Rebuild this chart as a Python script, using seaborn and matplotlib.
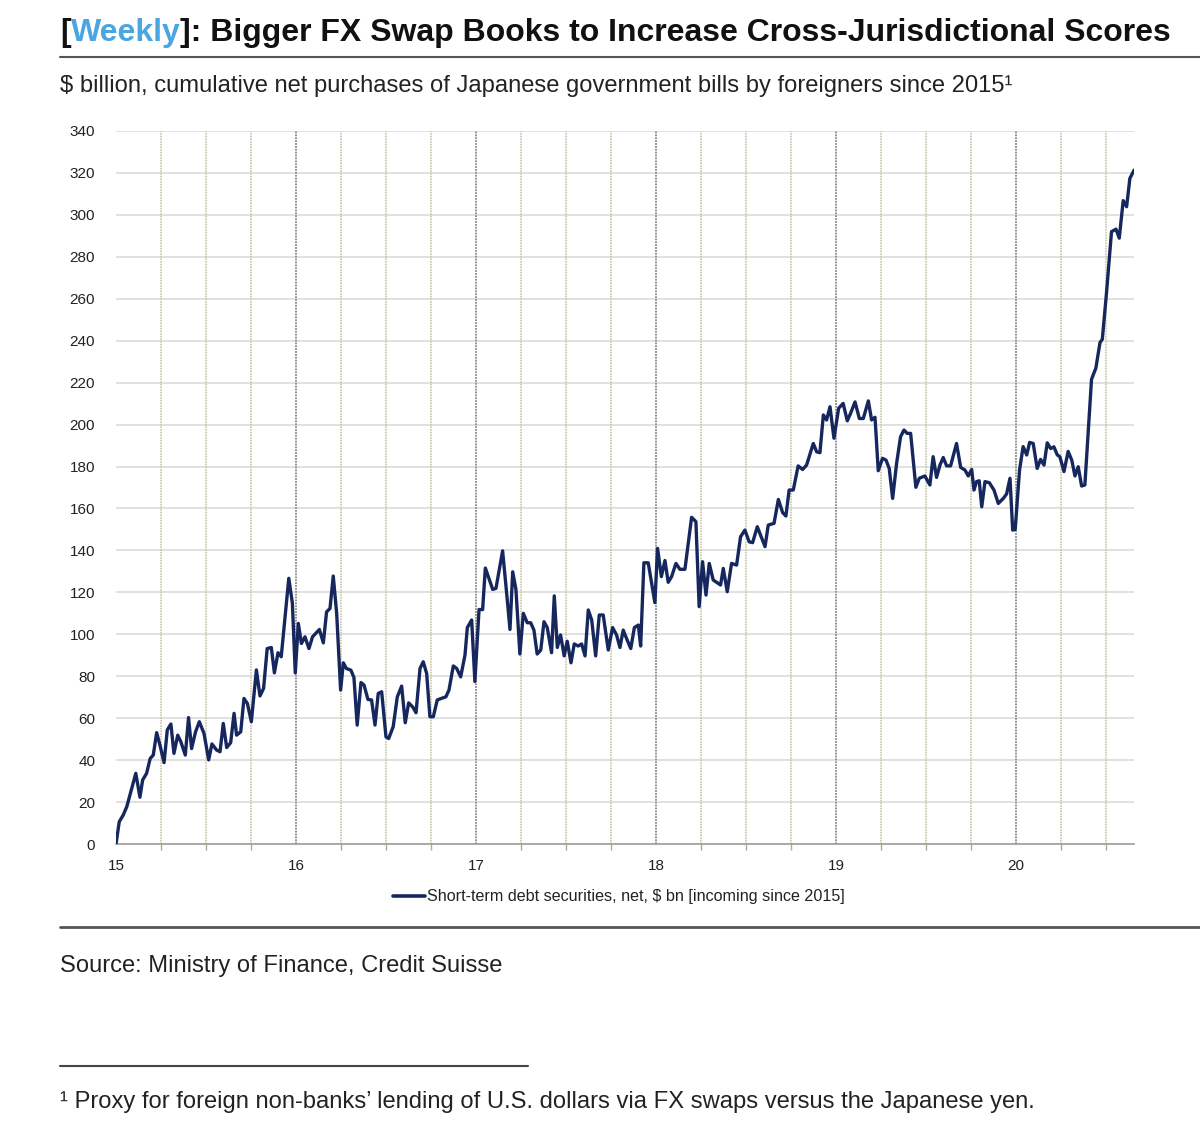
import numpy as np
import pandas as pd
import matplotlib
matplotlib.use('Agg')
import matplotlib.pyplot as plt
from matplotlib.lines import Line2D
from matplotlib.ticker import MultipleLocator, FixedLocator
import seaborn as sns

# weekly cumulative net purchases, $ bn (x = year, 15 = 2015)
d15 = [15.000, 15.018, 15.040, 15.060, 15.080, 15.110, 15.133, 15.148, 15.170, 15.190,
       15.207, 15.226, 15.244, 15.267, 15.285, 15.305, 15.322, 15.343, 15.360, 15.385,
       15.403, 15.420, 15.442, 15.463, 15.489, 15.515, 15.533, 15.559, 15.578, 15.596,
       15.615, 15.637, 15.656, 15.670, 15.693, 15.711, 15.730, 15.752, 15.780, 15.800,
       15.820, 15.840, 15.863, 15.880, 15.900, 15.918, 15.960, 15.980, 15.996]
v15 = [0, 10.6, 13.8, 17.8, 24.2, 33.7, 22.3, 30.5, 33.7, 40.8,
       42.4, 53.1, 47.2, 38.8, 54.4, 57.2, 43.2, 51.9, 48.8, 42.4,
       60.3, 45.5, 53.5, 58.3, 52.7, 40.1, 47.7, 44.8, 44.0, 57.5,
       46.0, 48.3, 62.3, 51.9, 53.5, 69.4, 67.0, 58.3, 83.0, 70.6,
       74.2, 93.2, 93.7, 81.6, 91.2, 89.3, 126.7, 114.8, 81.6]

d16 = [16.013, 16.030, 16.050, 16.072, 16.092, 16.130, 16.152, 16.170, 16.189, 16.207,
       16.226, 16.248, 16.263, 16.280, 16.305, 16.322, 16.340, 16.361, 16.378, 16.400,
       16.420, 16.439, 16.457, 16.476, 16.500, 16.515, 16.540, 16.563, 16.587, 16.607,
       16.626, 16.648, 16.667, 16.689, 16.707, 16.726, 16.744, 16.763, 16.785, 16.833,
       16.850, 16.874, 16.893, 16.915, 16.939, 16.952, 16.976, 16.994]
v16 = [105.2, 95.6, 98.8, 93.2, 98.8, 102.3, 95.9, 110.7, 112.3, 127.8,
       110.0, 73.4, 86.4, 83.7, 82.9, 79.4, 56.7, 77.0, 75.8, 68.9,
       68.7, 56.7, 71.8, 72.6, 51.1, 50.3, 55.9, 70.2, 75.3, 57.8,
       67.3, 65.4, 62.6, 83.7, 86.9, 81.3, 60.7, 60.7, 68.7, 70.2,
       73.4, 84.9, 83.7, 79.7, 90.1, 103.2, 106.8, 77.5]

d17 = [17.017, 17.037, 17.052, 17.074, 17.093, 17.111, 17.148, 17.167, 17.189, 17.204,
       17.222, 17.244, 17.263, 17.285, 17.304, 17.322, 17.340, 17.360, 17.378, 17.396,
       17.420, 17.435, 17.452, 17.470, 17.490, 17.507, 17.528, 17.546, 17.568, 17.587,
       17.606, 17.624, 17.643, 17.665, 17.685, 17.707, 17.735, 17.759, 17.781, 17.800,
       17.818, 17.840, 17.860, 17.880, 17.902, 17.915, 17.933, 17.957, 17.994]
v17 = [111.8, 111.8, 131.6, 126.2, 121.4, 121.9, 139.8, 122.7, 102.3, 129.8,
       121.4, 90.6, 110.0, 105.5, 105.5, 102.0, 90.6, 92.5, 106.0, 103.2,
       91.2, 118.3, 93.7, 99.7, 89.7, 96.7, 86.4, 95.4, 94.4, 95.4,
       89.7, 111.6, 106.8, 89.7, 109.2, 109.2, 92.5, 103.2, 99.7, 93.7,
       102.0, 97.3, 93.2, 103.2, 104.4, 94.4, 134.1, 134.1, 115.1]

d18 = [18.009, 18.030, 18.050, 18.068, 18.087, 18.111, 18.133, 18.161, 18.198, 18.222,
       18.240, 18.259, 18.278, 18.296, 18.318, 18.359, 18.374, 18.396, 18.420, 18.448,
       18.470, 18.494, 18.518, 18.537, 18.563, 18.606, 18.624, 18.656, 18.680, 18.704,
       18.722, 18.740, 18.763, 18.790, 18.815, 18.837, 18.874, 18.893, 18.911, 18.930,
       18.948, 18.967, 18.989]
v18 = [141.0, 127.5, 135.2, 124.8, 127.5, 133.8, 131.0, 131.0, 155.8, 153.7,
       113.2, 134.6, 118.7, 133.8, 125.9, 123.5, 131.4, 120.3, 133.8, 133.0,
       146.5, 149.7, 144.1, 143.7, 151.3, 141.8, 152.1, 152.9, 164.3, 158.0,
       156.4, 168.8, 168.8, 180.3, 178.6, 180.7, 191.0, 187.0, 186.6, 204.6,
       202.2, 208.5, 193.5]

d19 = [19.015, 19.040, 19.063, 19.081, 19.106, 19.130, 19.152, 19.180, 19.198, 19.217,
       19.235, 19.259, 19.278, 19.296, 19.315, 19.337, 19.359, 19.378, 19.396, 19.415,
       19.444, 19.463, 19.494, 19.522, 19.540, 19.559, 19.578, 19.596, 19.615, 19.637,
       19.670, 19.693, 19.717, 19.735, 19.754, 19.767, 19.781, 19.796, 19.810, 19.828,
       19.852, 19.878, 19.902, 19.930, 19.948, 19.967, 19.982, 19.996]
v19 = [207.8, 210.1, 201.8, 205.3, 210.8, 202.9, 202.9, 211.3, 202.2, 203.5,
       178.0, 183.9, 183.1, 179.1, 164.8, 181.5, 194.2, 197.4, 195.8, 195.8,
       170.1, 174.4, 175.5, 171.2, 184.7, 174.8, 180.7, 184.3, 180.3, 180.3,
       191.0, 179.6, 178.3, 175.5, 178.6, 168.8, 172.8, 173.2, 160.8, 172.8,
       172.3, 168.8, 162.4, 164.8, 166.9, 174.4, 149.7, 150.0]

d20 = [20.020, 20.040, 20.060, 20.076, 20.096, 20.118, 20.137, 20.156, 20.174, 20.193,
       20.211, 20.230, 20.244, 20.267, 20.290, 20.310, 20.328, 20.346, 20.365, 20.383,
       20.420, 20.444, 20.467, 20.480, 20.503, 20.531, 20.556, 20.574, 20.596, 20.615,
       20.633, 20.657]
v20 = [178.3, 189.5, 185.5, 191.5, 191.0, 179.1, 183.4, 180.7, 191.3, 188.6,
       189.4, 185.5, 184.7, 177.6, 187.2, 183.1, 175.5, 179.9, 170.7, 171.2,
       221.6, 226.9, 239.1, 240.7, 262.6, 292.0, 293.2, 288.9, 306.8, 303.9,
       317.4, 321.4]

years = [15, 16, 17, 18, 19, 20]
series_name = 'Short-term debt securities, net, \\$ bn [incoming since 2015]'

df = pd.DataFrame({'date': d15 + d16 + d17 + d18 + d19 + d20,
                   'value': v15 + v16 + v17 + v18 + v19 + v20})
df['series'] = series_name

sns.set_theme(style='white')
plt.rcParams['font.family'] = ['Liberation Sans', 'DejaVu Sans']

navy = '#16275e'
fig = plt.figure(figsize=(12, 11.27), dpi=100)
ax = fig.add_axes([116/1200, 1 - 844/1127, 1018/1200, 713/1127])

# grid: dark at years, khaki dotted at quarters
for q in np.arange(15.25, 20.66, 0.25):
    if abs(q - round(q)) < 1e-6:
        ax.axvline(q, color='#8a8a86', lw=1.3, ls=(0, (1, 0.6)), zorder=1)
    else:
        ax.axvline(q, color='#cdc6a6', lw=1.2, ls=(0, (1, 0.6)), zorder=1)
for yv in range(20, 341, 20):
    ax.axhline(yv, color='#dcdcdc', lw=1.2, zorder=0)

sns.lineplot(data=df, x='date', y='value', hue='series', palette=[navy],
             estimator=None, sort=False, lw=2.4, ax=ax, zorder=3)

ax.set_xlim(15, 20.656)
ax.set_ylim(0, 340)
ax.yaxis.set_major_locator(MultipleLocator(20))
ax.xaxis.set_major_locator(FixedLocator(years))
ax.xaxis.set_minor_locator(MultipleLocator(0.25))
ax.set_xticklabels([str(y) for y in years])
ax.tick_params(axis='y', length=0, labelsize=11, pad=15, colors='#222222')
ax.tick_params(axis='x', which='major', length=5, width=1, color='#888888',
               labelsize=11, pad=6, labelcolor='#222222', direction='out')
ax.tick_params(axis='x', which='minor', length=4, width=1, color='#aaaaaa',
               bottom=True, direction='out')
ax.set_xlabel('')
ax.set_ylabel('')
for s in ['left', 'right', 'top']:
    ax.spines[s].set_visible(False)
ax.spines['bottom'].set_color('#9a9a9a')
ax.spines['bottom'].set_linewidth(1.2)

leg = ax.legend(loc='center', bbox_to_anchor=(0.494, -0.074), frameon=False,
                fontsize=11.6, handlelength=2.0, handletextpad=0.1)
for h in leg.get_lines():
    h.set_linewidth(2.6)
for t in leg.get_texts():
    t.set_color('#222222')

# title built from pieces so "Weekly" can be blue
fig.canvas.draw()
renderer = fig.canvas.get_renderer()
x = 60 / 1200
ty = 1 - 41 / 1127
pieces = [('[', '#111111'), ('Weekly', '#4aa6e0'),
          (']: Bigger FX Swap Books to Increase Cross-Jurisdictional Scores', '#111111')]
for txt, col in pieces:
    t = fig.text(x, ty, txt, fontsize=23, fontweight='bold', color=col, va='baseline')
    bb = t.get_window_extent(renderer=renderer)
    x += bb.width / fig.bbox.width

fig.add_artist(Line2D([60/1200, 1.0], [1 - 57/1127] * 2, color='#555555', lw=1.5,
                      transform=fig.transFigure))
fig.text(60/1200, 1 - 92/1127,
         '\\$ billion, cumulative net purchases of Japanese government bills by foreigners since 2015\u00b9',
         fontsize=17.1, color='#222222', va='baseline')

fig.add_artist(Line2D([60/1200, 1.0], [1 - 927/1127] * 2, color='#555555', lw=2,
                      transform=fig.transFigure))
fig.text(60/1200, 1 - 972/1127, 'Source: Ministry of Finance, Credit Suisse',
         fontsize=17.1, color='#222222', va='baseline')

fig.add_artist(Line2D([60/1200, 528/1200], [1 - 1066/1127] * 2, color='#444444', lw=1.5,
                      transform=fig.transFigure))
fig.text(60/1200, 1 - 1108/1127,
         '\u00b9 Proxy for foreign non-banks\u2019 lending of U.S. dollars via FX swaps versus the Japanese yen.',
         fontsize=17.1, color='#222222', va='baseline')

fig.savefig('out.png', dpi=100, facecolor='white')
